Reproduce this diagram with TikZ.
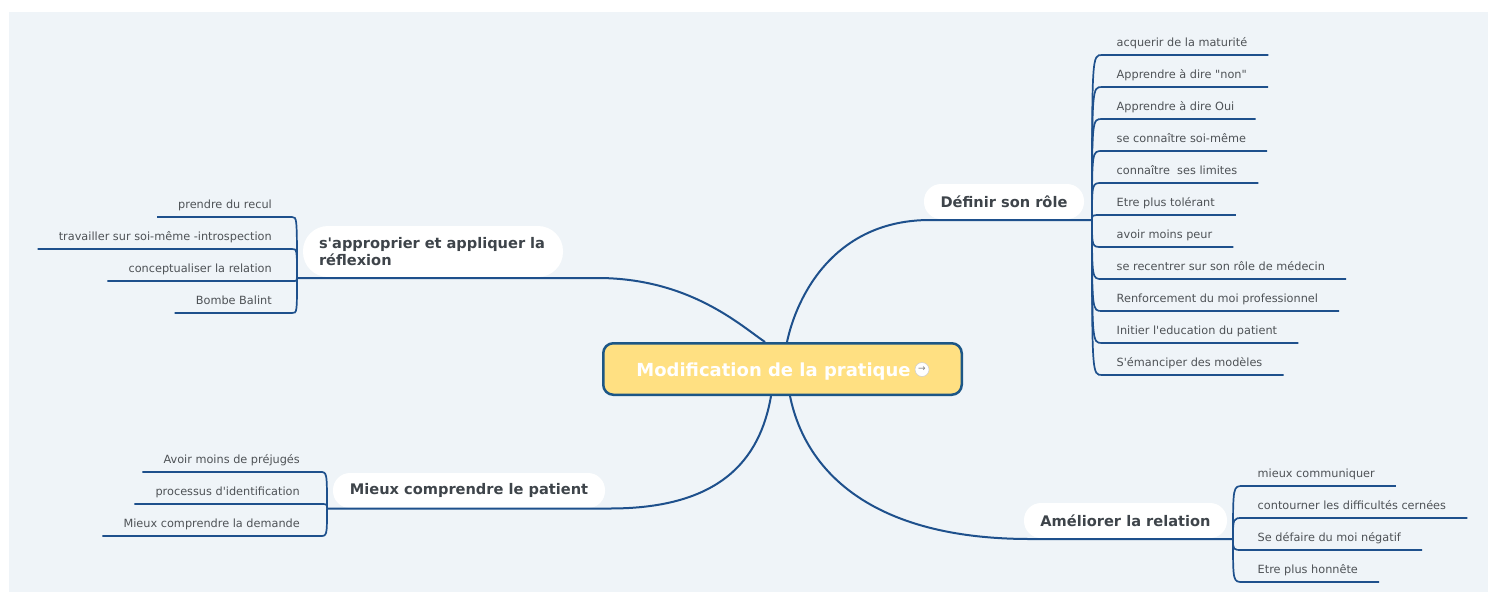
\documentclass[tikz,border=0pt]{standalone}
\usepackage{fontspec}
\usetikzlibrary{calc}
\newfontfamily\dv{DejaVu Sans}
\definecolor{bg}{RGB}{239,244,248}
\definecolor{lnc}{RGB}{30,80,140}
\definecolor{rootfill}{RGB}{255,224,130}
\definecolor{rootdraw}{RGB}{28,86,134}
\definecolor{ttxt}{RGB}{62,68,74}
\definecolor{ktxt}{RGB}{78,82,86}
\tikzset{
 mainline/.style={draw=lnc, line width=2pt},
 kidline/.style={draw=lnc, line width=1.7pt},
 kid/.style={font=\dv\fontsize{11.3}{13.5}\selectfont, text=ktxt, inner sep=0pt},
 pill/.style={fill=white, rounded corners=17pt, font=\dv\bfseries\fontsize{14.6}{17}\selectfont, text=ttxt, minimum height=35pt, inner xsep=0pt, inner ysep=0pt},
 root/.style={fill=rootfill, draw=rootdraw, line width=2.5pt, rounded corners=10pt, minimum width=358.5pt, minimum height=51.5pt, inner sep=0pt},
 roottext/.style={font=\dv\bfseries\fontsize{18}{21}\selectfont, text=white, inner sep=0pt},
 icon/.style={circle, fill=white, draw=gray!40, line width=0.5pt, minimum size=14pt, inner sep=0pt, font=\dv\fontsize{9}{9}\selectfont, text=gray},
}
\newcommand\rkid[5]{%
  \coordinate (#1s) at (#3,#4);
  \node[kid,anchor=base west] (#1) at ($(#1s)+(14.5,-9)$) {#5};
  \coordinate (#1e) at ($(#1.base east)+(21,9)$);
  \draw[kidline] (#2) .. controls (#2 |- #1s) .. (#1s) -- (#1e);
}
\newcommand\lkid[5]{%
  \coordinate (#1s) at (#3,#4);
  \node[kid,anchor=base east] (#1) at ($(#1s)+(-20,-9)$) {#5};
  \coordinate (#1e) at ($(#1.base west)+(-21,9)$);
  \draw[kidline] (#2) .. controls (#2 |- #1s) .. (#1s) -- (#1e);
}
\begin{document}
\begin{tikzpicture}[x=1pt,y=-1pt]
\useasboundingbox (0,0) rectangle (1488,592);
\fill[bg] (9,12) rectangle (1488,592);

% hubs
\coordinate (dh) at (1092,220);
\coordinate (ah) at (297,278);
\coordinate (mh) at (327,508.5);
\coordinate (amh) at (1233,539);

% central topic
\node[root] (root) at (782.5,369) {};
\node[roottext, anchor=base] (title) at (773.5,376.5) {Modification de la pratique};
\node[icon] (ic) at (922,369.5) {→};

% main topics
\node[pill, minimum width=160pt] (def) at (1004,201.5) {Définir son rôle};
\node[pill, text width=228pt, align=left, inner xsep=16pt, minimum height=51pt, rounded corners=25pt] (ap) at (433,251.5) {s'approprier et appliquer la\\réflexion};
\node[pill, minimum width=272pt] (mc) at (469,490.5) {Mieux comprendre le patient};
\node[pill, minimum width=203pt] (am) at (1125.5,520.5) {Améliorer la relation};

% main connectors
\draw[mainline] ($(root.north)+(4.5,0)$) .. controls (797,295) and (835,220) .. (930,220) -- (dh);
\draw[mainline] ($(root.north)+(-17.5,0)$) .. controls (740,325) and (690,279) .. (600,278) -- (ah);
\draw[mainline] ($(root.south)+(-11.5,0)$) .. controls (760,460) and (720,508.5) .. (610,508.5) -- (mh);
\draw[mainline] ($(root.south)+(7.5,0)$) .. controls (805,470) and (870,539) .. (1030,539) -- (amh);

% Définir son rôle
\rkid{d0}{dh}{1102}{55}{acquerir de la maturité}
\rkid{d1}{dh}{1102}{87}{Apprendre à dire "non"}
\rkid{d2}{dh}{1102}{119}{Apprendre à dire Oui}
\rkid{d3}{dh}{1102}{151}{se connaître soi-même}
\rkid{d4}{dh}{1102}{183}{connaître~ ses limites}
\rkid{d5}{dh}{1102}{215}{Etre plus tolérant}
\rkid{d6}{dh}{1102}{247}{avoir moins peur}
\rkid{d7}{dh}{1102}{279}{se recentrer sur son rôle de médecin}
\rkid{d8}{dh}{1102}{311}{Renforcement du moi professionnel}
\rkid{d9}{dh}{1102}{343}{Initier l'education du patient}
\rkid{d10}{dh}{1102}{375}{S'émanciper des modèles}

% s'approprier
\lkid{a0}{ah}{292}{217}{prendre du recul}
\lkid{a1}{ah}{292}{249}{travailler sur soi-même -introspection}
\lkid{a2}{ah}{292}{281}{conceptualiser la relation}
\lkid{a3}{ah}{292}{313}{Bombe Balint}

% Mieux comprendre
\lkid{m0}{mh}{320}{472}{Avoir moins de préjugés}
\lkid{m1}{mh}{320}{504}{processus d'identification}
\lkid{m2}{mh}{320}{536}{Mieux comprendre la demande}

% Améliorer
\rkid{r0}{amh}{1243}{486}{mieux communiquer}
\rkid{r1}{amh}{1243}{518}{contourner les difficultés cernées}
\rkid{r2}{amh}{1243}{550}{Se défaire du moi négatif}
\rkid{r3}{amh}{1243}{582}{Etre plus honnête}
\end{tikzpicture}
\end{document}
